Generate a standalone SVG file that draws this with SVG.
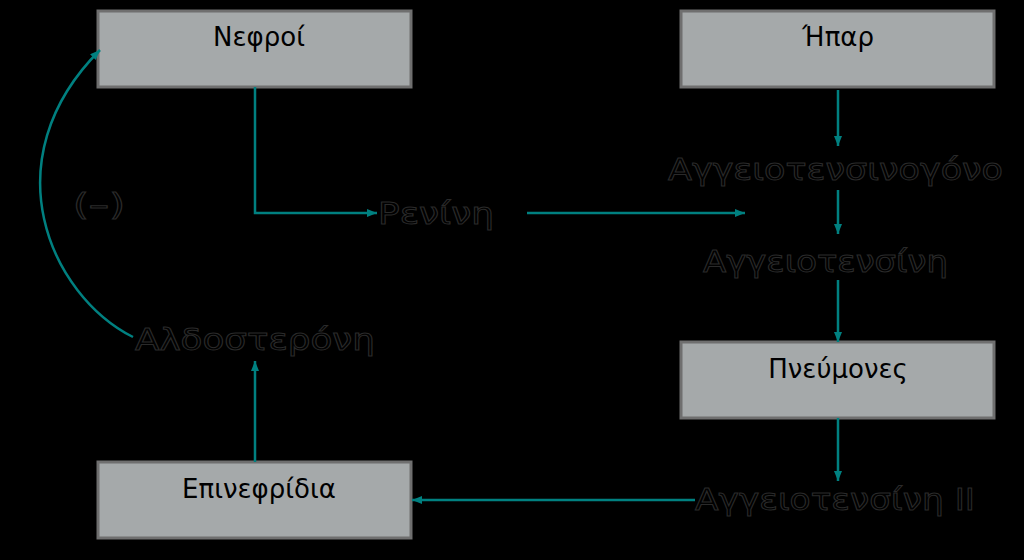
<svg xmlns="http://www.w3.org/2000/svg" width="1024" height="560" viewBox="0 0 1024 560">
<defs>
<marker id="ah" markerWidth="10" markerHeight="8" refX="10" refY="4" orient="auto" markerUnits="userSpaceOnUse" viewBox="0 0 10 8"><path d="M0,0 L10,4 L0,8 z" fill="#008080"/></marker>
<style>
.box{fill:#a5a9aa;stroke:#6f6f6f;stroke-width:3}
.bt{font-family:"DejaVu Sans",sans-serif;font-size:26px;fill:#000;text-anchor:middle}
.ft{font-family:"DejaVu Sans",sans-serif;font-size:30px;fill:#000;stroke:#2a2a2a;stroke-width:1}
.c{fill:none;stroke:#008080;stroke-width:2.5}
</style>
</defs>
<rect width="1024" height="560" fill="#000"/>
<g id="nefroi"><rect class="box" x="98" y="11" width="313" height="76"/><text class="bt" x="259" y="46">Νεφροί</text></g>
<g id="ipar"><rect class="box" x="681" y="11" width="313" height="76"/><text class="bt" x="838" y="46">Ήπαρ</text></g>
<g id="pnevmones"><rect class="box" x="681" y="342" width="313" height="76"/><text class="bt" x="838" y="378">Πνεύμονες</text></g>
<g id="epinefridia"><rect class="box" x="98" y="462" width="313" height="76"/><text class="bt" x="259" y="498">Επινεφρίδια</text></g>
<g id="labels">
<text class="ft" x="378" y="224" textLength="116" lengthAdjust="spacingAndGlyphs">Ρενίνη</text>
<text class="ft" x="668" y="180" textLength="335" lengthAdjust="spacingAndGlyphs">Αγγειοτενσινογόνο</text>
<text class="ft" x="703" y="272" textLength="245" lengthAdjust="spacingAndGlyphs">Αγγειοτενσίνη</text>
<text class="ft" x="695" y="510" textLength="280" lengthAdjust="spacingAndGlyphs">Αγγειοτενσίνη ΙΙ</text>
<text class="ft" x="135" y="350" textLength="240" lengthAdjust="spacingAndGlyphs">Αλδοστερόνη</text>
<text class="ft" x="73" y="215" textLength="52" lengthAdjust="spacingAndGlyphs">(–)</text>
</g>
<g id="connectors">
<path class="c" d="M255,87 V213 H377" marker-end="url(#ah)"/>
<path class="c" d="M527,213 H745" marker-end="url(#ah)"/>
<path class="c" d="M838,90 V146" marker-end="url(#ah)"/>
<path class="c" d="M838,190 V234" marker-end="url(#ah)"/>
<path class="c" d="M838,280 V342" marker-end="url(#ah)"/>
<path class="c" d="M838,418 V481" marker-end="url(#ah)"/>
<path class="c" d="M695,500 H412" marker-end="url(#ah)"/>
<path class="c" d="M255,462 V361" marker-end="url(#ah)"/>
<path class="c" d="M133,337 C50,295 -10,160 100,50" marker-end="url(#ah)"/>
</g>
</svg>
